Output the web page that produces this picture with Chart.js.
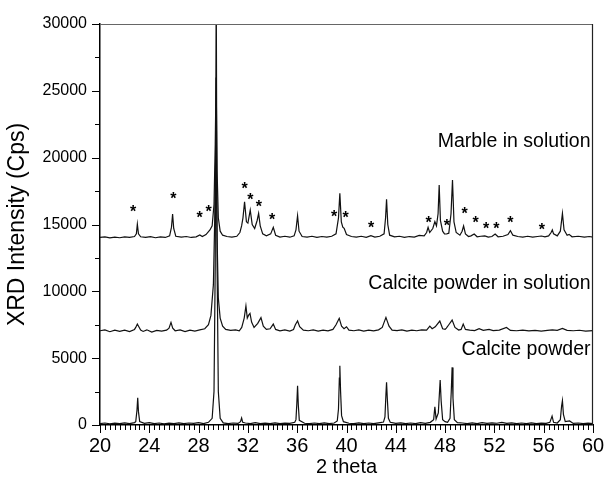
<!DOCTYPE html>
<html>
<head>
<meta charset="utf-8">
<script src="https://cdn.jsdelivr.net/npm/chart.js@4.4.1/dist/chart.umd.min.js"></script>
<style>
  html, body { margin: 0; padding: 0; background: #fff; }
</style>
</head>
<body>
<canvas id="xrd" width="606" height="479"></canvas>
<script>
// Diffraction traces as [2theta, counts] pairs; the two solution samples are stacked upward.
const marbleInSolution = [
  [20,14030],[20.4,14080],[20.8,14000],[21.2,14060],[21.6,14010],[22,14070],[22.4,14040],[22.8,14100],
  [22.95,14300],[23.03,15030],[23.12,14300],[23.3,14080],[23.7,14030],[24.1,14090],[24.5,14010],[24.9,14070],
  [25.3,14030],[25.65,14150],[25.8,14800],[25.89,15780],[25.98,14700],[26.15,14120],[26.6,14050],[27,14100],
  [27.4,14030],[27.8,14080],[28.1,14220],[28.3,14100],[28.6,14250],[28.92,14590],[29.1,14900],[29.25,16500],
  [29.35,21000],[29.42,26000],[29.5,19000],[29.6,15500],[29.75,14500],[29.95,14200],[30.3,14100],[30.7,14050],
  [31.1,14120],[31.35,14400],[31.49,14890],[31.6,15500],[31.73,16700],[31.88,15200],[32.0,15100],[32.19,16080],
  [32.35,15000],[32.55,14700],[32.75,15300],[32.87,15830],[33.0,14900],[33.2,14300],[33.5,14150],[33.85,14300],
  [34.06,14790],[34.25,14200],[34.6,14060],[35,14120],[35.4,14050],[35.75,14150],[35.9,14600],[36.03,15660],
  [36.15,14500],[36.4,14100],[36.8,14050],[37.2,14120],[37.6,14040],[38,14100],[38.4,14050],[38.8,14120],
  [39.15,14300],[39.35,15500],[39.46,17330],[39.58,15200],[39.7,14800],[39.81,14710],[40.0,14250],[40.4,14100],
  [40.8,14050],[41.2,14120],[41.6,14040],[41.98,14160],[42.3,14060],[42.7,14120],[43.05,14300],[43.17,15500],
  [43.25,16880],[43.35,15000],[43.5,14200],[43.9,14080],[44.3,14120],[44.7,14040],[45.1,14100],[45.5,14060],
  [45.9,14180],[46.3,14150],[46.5,14400],[46.62,14790],[46.75,14400],[47.0,14700],[47.17,15210],[47.3,14900],
  [47.43,15800],[47.52,17950],[47.62,15300],[47.8,14500],[47.95,14300],[48.11,14290],[48.3,14350],[48.48,15800],
  [48.6,18330],[48.72,15200],[48.9,14400],[49.2,14200],[49.38,14500],[49.5,14890],[49.65,14300],[49.9,14100],
  [50.1,14150],[50.36,14290],[50.6,14080],[50.9,14120],[51.22,14150],[51.5,14060],[51.8,14100],[52.06,14290],
  [52.3,14080],[52.7,14120],[53.1,14250],[53.3,14540],[53.5,14200],[53.9,14100],[54.3,14060],[54.7,14120],
  [55.1,14050],[55.5,14100],[55.81,14140],[56.1,14080],[56.4,14150],[56.6,14400],[56.7,14590],[56.8,14300],
  [57.1,14150],[57.35,14500],[57.52,15830],[57.65,14600],[57.9,14200],[58.06,14260],[58.3,14080],[58.8,14120],
  [59.3,14050],[59.7,14100],[60,14060]
];

const calciteInSolution = [
  [20,7050],[20.4,7120],[20.8,6980],[21.2,7100],[21.6,7010],[22,7090],[22.4,6990],[22.8,7150],
  [22.9,7300],[23.03,7550],[23.15,7350],[23.3,7100],[23.5,7000],[23.8,7120],[24.2,6950],[24.6,7080],
  [25,7020],[25.4,7100],[25.6,7250],[25.76,7680],[25.9,7250],[26.1,7050],[26.5,7110],[26.9,6990],
  [27.3,7100],[27.7,7030],[28.1,7120],[28.5,7200],[28.8,7500],[29.0,8200],[29.2,10500],[29.3,15000],
  [29.4,21000],[29.5,14000],[29.6,9500],[29.75,8000],[29.95,7400],[30.2,7150],[30.6,7080],[31,7120],
  [31.3,7050],[31.5,7300],[31.7,8000],[31.84,8900],[31.95,8000],[32.05,8200],[32.17,8350],[32.3,7700],
  [32.5,7300],[32.8,7600],[33.06,8030],[33.25,7400],[33.5,7150],[33.8,7200],[34.06,7550],[34.25,7150],
  [34.6,7050],[35,7120],[35.4,7030],[35.7,7150],[35.85,7500],[36.03,7780],[36.2,7350],[36.5,7100],
  [36.9,7050],[37.3,7120],[37.7,7030],[38.1,7100],[38.5,7050],[38.9,7150],[39.15,7500],[39.41,7980],
  [39.6,7400],[39.8,7200],[40.0,7350],[40.2,7100],[40.6,7050],[41,7120],[41.4,7030],[41.8,7100],
  [42.2,7040],[42.6,7120],[42.9,7300],[43.2,8050],[43.45,7400],[43.7,7100],[44.1,7060],[44.5,7120],
  [44.9,7030],[45.3,7100],[45.7,7050],[46.1,7120],[46.5,7100],[46.76,7400],[46.95,7200],[47.2,7350],
  [47.57,7780],[47.8,7200],[48.0,7150],[48.1,7250],[48.3,7500],[48.57,7850],[48.8,7300],[49.1,7100],
  [49.3,7150],[49.47,7550],[49.65,7150],[50,7100],[50.4,7060],[50.76,7200],[51.1,7080],[51.57,7150],
  [51.9,7060],[52.4,7100],[52.98,7300],[53.3,7080],[53.8,7050],[54.3,7100],[54.8,7040],[55.3,7080],
  [55.8,7030],[56.3,7080],[56.7,7120],[57.1,7080],[57.52,7220],[57.9,7080],[58.4,7050],[58.9,7090],
  [59.4,7030],[60,7060]
];

const calcitePowder = [
  [20,100],[20.4,150],[20.8,90],[21.2,140],[21.6,110],[22,160],[22.4,100],[22.8,180],
  [22.9,250],[23.0,1100],[23.06,2040],[23.12,1000],[23.22,250],[23.6,120],[24,170],[24.4,100],
  [24.8,150],[25.2,90],[25.6,140],[26,110],[26.4,160],[26.8,100],[27.2,150],[27.6,120],
  [28,170],[28.4,110],[28.8,200],[29.1,500],[29.25,2500],[29.35,12000],[29.43,33000],[29.5,12000],
  [29.6,2500],[29.75,500],[30,160],[30.4,110],[30.8,150],[31.2,120],[31.4,250],[31.49,520],
  [31.58,200],[31.8,150],[32.2,110],[32.6,170],[33,100],[33.4,140],[33.8,110],[34.2,160],
  [34.6,100],[35,140],[35.4,120],[35.8,200],[35.9,400],[35.97,1600],[36.03,2940],[36.09,1500],
  [36.17,350],[36.6,130],[37,100],[37.4,150],[37.8,110],[38.2,160],[38.6,100],[39,150],
  [39.25,300],[39.35,1200],[39.42,3500],[39.46,4440],[39.52,2500],[39.6,700],[39.75,250],[40.2,130],
  [40.6,100],[41,160],[41.4,110],[41.8,150],[42.2,100],[42.6,160],[43,220],[43.12,600],
  [43.2,2300],[43.25,3190],[43.31,2000],[43.4,500],[43.55,200],[44,120],[44.4,160],[44.8,100],
  [45.2,150],[45.6,110],[46,170],[46.4,120],[46.8,200],[47.07,400],[47.17,1370],[47.27,450],
  [47.45,900],[47.6,3370],[47.68,1800],[47.8,400],[48,250],[48.2,200],[48.4,500],[48.5,2500],
  [48.57,4310],[48.64,2000],[48.75,400],[49,180],[49.4,150],[49.8,110],[50.2,160],[50.6,100],
  [51,170],[51.4,120],[51.8,160],[52.2,130],[52.6,200],[53,120],[53.4,160],[53.8,100],
  [54.2,150],[54.6,110],[55,160],[55.4,100],[55.8,140],[56.2,120],[56.5,200],[56.68,670],
  [56.8,200],[57.1,150],[57.35,400],[57.45,1400],[57.52,1820],[57.6,800],[57.75,250],[58.1,300],
  [58.4,120],[58.8,150],[59.2,100],[59.6,140],[60,110]
];

// Asterisks marking the extra reflections of the marble sample
const starTheta = [22.68,25.95,28.09,28.82,31.74,32.19,32.88,33.96,38.99,39.93,41.99,46.67,48.15,49.59,50.48,51.32,52.15,53.29,55.86];
const starCps   = [16256,17206,15763,16256,17954,17132,16630,15635,15882,15785,15037,15389,15209,16085,15389,14940,14940,15389,14910];

// Trace names written at the right end of each trace
const traceNames = ['Marble in solution', 'Calcite powder in solution', 'Calcite powder'];
const nameTheta  = [59.8, 59.8, 59.8];
const nameCps    = [21170, 10550, 5610];

// Axis ranges and tick steps
const thetaRange = [20, 60];
const cpsRange = [0, 30000];
const thetaStep = 4, thetaMinorStep = 0.4;
const cpsStep = 5000, cpsMinorStep = 2500;

const FONT = "'Liberation Sans', Arial, Helvetica, sans-serif";

const toXY = arr => arr.map(p => ({ x: p[0], y: p[1] }));

const decorations = {
  id: 'decorations',
  afterDraw(chart) {
    const { ctx, chartArea: a, scales: { x, y } } = chart;
    ctx.save();
    // frame on top and right
    ctx.lineWidth = 1.2;
    ctx.strokeStyle = '#666';
    ctx.beginPath();
    ctx.moveTo(a.left, a.top + 0.5);
    ctx.lineTo(a.right - 0.5, a.top + 0.5);
    ctx.stroke();
    ctx.strokeStyle = '#222';
    ctx.beginPath();
    ctx.moveTo(a.right - 0.5, a.top);
    ctx.lineTo(a.right - 0.5, a.bottom);
    ctx.stroke();

    // outward tick marks
    ctx.strokeStyle = '#000';
    ctx.lineWidth = 1;
    ctx.beginPath();
    const nx = Math.round((thetaRange[1] - thetaRange[0]) / thetaMinorStep);
    for (let i = 0; i <= nx; i++) {
      const v = thetaRange[0] + i * thetaMinorStep;
      const px = Math.round(x.getPixelForValue(v)) + 0.5;
      const major = i % Math.round(thetaStep / thetaMinorStep) === 0;
      ctx.moveTo(px, a.bottom);
      ctx.lineTo(px, a.bottom + (major ? 8 : 5));
    }
    const ny = Math.round((cpsRange[1] - cpsRange[0]) / cpsMinorStep);
    for (let i = 0; i <= ny; i++) {
      const v = cpsRange[0] + i * cpsMinorStep;
      const py = Math.round(y.getPixelForValue(v)) + 0.5;
      const major = i % Math.round(cpsStep / cpsMinorStep) === 0;
      ctx.moveTo(a.left, py);
      ctx.lineTo(a.left - (major ? 8 : 5), py);
    }
    ctx.stroke();

    // asterisks
    ctx.fillStyle = '#000';
    ctx.font = 'bold 16px ' + FONT;
    ctx.textAlign = 'center';
    ctx.textBaseline = 'alphabetic';
    starTheta.forEach((t, i) => {
      ctx.fillText('*', x.getPixelForValue(t), y.getPixelForValue(starCps[i]) + 9);
    });

    // trace names
    ctx.font = '19.5px ' + FONT;
    ctx.textAlign = 'right';
    ctx.textBaseline = 'middle';
    traceNames.forEach((n, i) => {
      ctx.fillText(n, x.getPixelForValue(nameTheta[i]), y.getPixelForValue(nameCps[i]));
    });
    ctx.restore();
  }
};

const lineStyle = {
  showLine: true,
  borderColor: '#111',
  borderWidth: 1.2,
  pointRadius: 0,
  tension: 0,
  fill: false
};

new Chart(document.getElementById('xrd'), {
  type: 'scatter',
  data: {
    datasets: [
      { label: traceNames[0], data: toXY(marbleInSolution), ...lineStyle },
      { label: traceNames[1], data: toXY(calciteInSolution), ...lineStyle },
      { label: traceNames[2], data: toXY(calcitePowder), ...lineStyle }
    ]
  },
  options: {
    responsive: false,
    animation: false,
    devicePixelRatio: 1,
    layout: { padding: { top: 24, right: 13, left: 0, bottom: 0 } },
    plugins: { legend: { display: false }, tooltip: { enabled: false } },
    scales: {
      x: {
        type: 'linear',
        min: thetaRange[0], max: thetaRange[1],
        afterFit: s => { s.height = 54; s.paddingLeft = 0; s.paddingRight = 0; },
        grid: { display: false, drawTicks: false },
        border: { display: true, color: '#000', width: 1.5 },
        ticks: { stepSize: thetaStep, autoSkip: false, maxRotation: 0, padding: 9, color: '#000',
                 font: { family: FONT, size: 20 } },
        title: { display: true, text: '2 theta', color: '#000', padding: { top: 0, bottom: 0 },
                 font: { family: FONT, size: 20 } }
      },
      y: {
        type: 'linear',
        min: cpsRange[0], max: cpsRange[1],
        afterFit: s => { s.width = 100; s.paddingTop = 0; s.paddingBottom = 0; },
        grid: { display: false, drawTicks: false },
        border: { display: true, color: '#000', width: 1.5 },
        ticks: { stepSize: cpsStep, padding: 13, color: '#000',
                 callback: v => String(v),
                 font: { family: FONT, size: 16 } },
        title: { display: true, text: 'XRD Intensity (Cps)', color: '#000', padding: { top: 4, bottom: 0 },
                 font: { family: FONT, size: 23 } }
      }
    }
  },
  plugins: [decorations]
});
</script>
</body>
</html>
